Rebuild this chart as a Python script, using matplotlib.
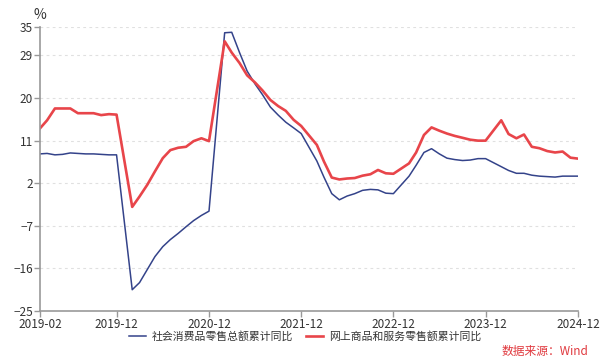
import numpy as np
import pandas as pd
import matplotlib
matplotlib.use('Agg')
import matplotlib.pyplot as plt
import matplotlib.dates as mdates

plt.rcParams['font.family'] = ['Noto Sans CJK SC', 'DejaVu Sans']

# monthly cumulative YoY, Jan is not published (Jan-Feb combined)
months = [m for m in pd.date_range('2019-02-01', '2024-12-01', freq='MS') if m.month != 1]

retail = [8.2, 8.3, 8.0, 8.1, 8.4, 8.3, 8.2, 8.2, 8.1, 8.0, 8.0,
          -20.5, -19.0, -16.2, -13.5, -11.4, -9.9, -8.6, -7.2, -5.9, -4.8, -3.9,
          33.8, 33.9, 29.6, 25.7, 23.0, 20.7, 18.1, 16.4, 14.9, 13.7, 12.5,
          6.7, 3.3, -0.2, -1.5, -0.7, -0.2, 0.5, 0.7, 0.6, -0.1, -0.2,
          3.5, 5.8, 8.5, 9.3, 8.2, 7.3, 7.0, 6.8, 6.9, 7.2, 7.2,
          5.5, 4.7, 4.1, 4.1, 3.7, 3.5, 3.4, 3.3, 3.5, 3.5, 3.5]

online = [13.6, 15.3, 17.8, 17.8, 17.8, 16.8, 16.8, 16.8, 16.4, 16.6, 16.5,
          -3.0, -0.8, 1.7, 4.5, 7.3, 9.0, 9.5, 9.7, 10.9, 11.5, 10.9,
          32.0, 29.6, 27.4, 24.8, 23.3, 21.6, 19.6, 18.3, 17.3, 15.4, 14.1,
          10.1, 6.6, 3.2, 2.8, 3.0, 3.1, 3.6, 3.9, 4.8, 4.1, 4.0,
          6.2, 8.5, 12.2, 13.8, 13.1, 12.5, 12.0, 11.6, 11.2, 11.0, 11.0,
          15.3, 12.4, 11.5, 12.3, 9.7, 9.4, 8.8, 8.5, 8.7, 7.4, 7.2]

yticks = [-25, -16, -7, 2, 11, 20, 29, 35]
xtick_labels = ['2019-02', '2019-12', '2020-12', '2021-12', '2022-12', '2023-12', '2024-12']

fig = plt.figure(figsize=(6.1, 3.64), dpi=100)
ax = fig.add_axes([0.0656, 0.1456, 0.882, 0.78])

l1, = ax.plot(months, retail, color='#34438a', lw=1.1, label='社会消费品零售总额累计同比')
l2, = ax.plot(months, online, color='#e8454a', lw=1.9, label='网上商品和服务零售额累计同比')

ax.set_ylim(-25, 35)
ax.set_yticks(yticks)
ax.set_xlim(months[0], months[-1])
ax.set_xticks(pd.to_datetime(xtick_labels))
ax.xaxis.set_major_formatter(mdates.DateFormatter('%Y-%m'))

for y in yticks[1:]:
    ax.axhline(y, color='#e0e0e0', lw=0.8, ls=(0, (2.5, 3)), zorder=0)

for s in ['top', 'right']:
    ax.spines[s].set_visible(False)
for s in ['left', 'bottom']:
    ax.spines[s].set_color('#999999')
    ax.spines[s].set_linewidth(1.2)

ax.tick_params(axis='both', colors='#999999', length=4, width=1, labelsize=8.5, labelcolor='#333333', pad=1)

fig.text(0.0656, 0.96, '%', fontsize=10, color='#333333', ha='center', va='center')

fig.legend(handles=[l1, l2], loc='center', bbox_to_anchor=(0.5, 0.075), ncol=2, frameon=False,
           fontsize=7.8, handlelength=1.6, handletextpad=0.5, columnspacing=1.2,
           labelcolor='#333333')

fig.text(0.964, 0.035, '数据来源：Wind', fontsize=8.5, color='#e0393e', ha='right', va='center')

fig.savefig('out.png', dpi=100)
